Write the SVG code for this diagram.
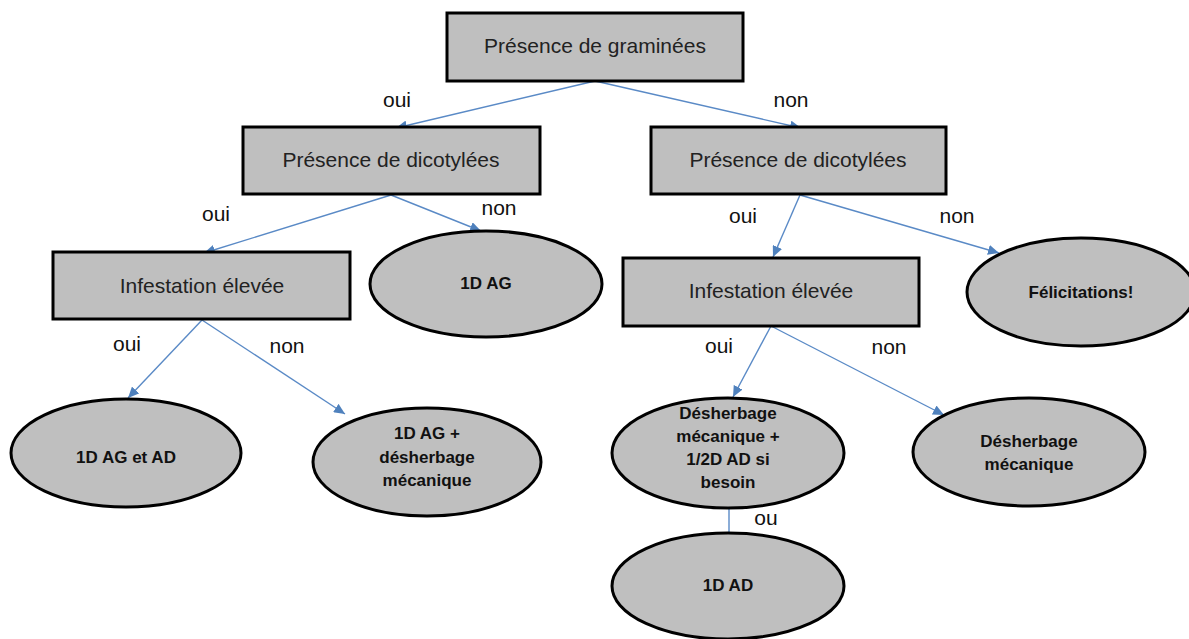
<svg xmlns="http://www.w3.org/2000/svg" width="1189" height="639" viewBox="0 0 1189 639">
<style>
.box{fill:#bfbfbf;stroke:#000;stroke-width:3}
.t{font-family:"Liberation Sans",Arial,sans-serif;font-size:21px;fill:#222;text-anchor:middle}
.b{font-family:"Liberation Sans",Arial,sans-serif;font-size:17px;font-weight:bold;fill:#111;text-anchor:middle}
.lbl{font-family:"Liberation Sans",Arial,sans-serif;font-size:21px;fill:#111;text-anchor:middle}
.e{fill:none;stroke:#5a8ac6;stroke-width:1.4}
</style>
<defs>
<marker id="arr" markerUnits="userSpaceOnUse" markerWidth="12" markerHeight="10" refX="11" refY="5" orient="auto">
<path d="M0,0 L11,5 L0,10 z" fill="#4f81bd"/>
</marker>
</defs>
<rect width="1189" height="639" fill="#fff"/>
<g id="connectors">
<line class="e" x1="595" y1="81" x2="396" y2="128" marker-end="url(#arr)"/>
<line class="e" x1="595" y1="81" x2="801" y2="128" marker-end="url(#arr)"/>
<line class="e" x1="391" y1="195" x2="204" y2="253" marker-end="url(#arr)"/>
<line class="e" x1="391" y1="195" x2="481" y2="231" marker-end="url(#arr)"/>
<line class="e" x1="202" y1="320" x2="128" y2="398" marker-end="url(#arr)"/>
<line class="e" x1="202" y1="320" x2="345" y2="414" marker-end="url(#arr)"/>
<line class="e" x1="800" y1="195" x2="773" y2="257" marker-end="url(#arr)"/>
<line class="e" x1="800" y1="195" x2="999" y2="253" marker-end="url(#arr)"/>
<line class="e" x1="771" y1="326" x2="733" y2="397" marker-end="url(#arr)"/>
<line class="e" x1="771" y1="326" x2="944" y2="415" marker-end="url(#arr)"/>
<line class="e" x1="729" y1="508" x2="729" y2="533"/>
</g>
<g id="labels">
<text class="lbl" x="397" y="107">oui</text>
<text class="lbl" x="791" y="107">non</text>
<text class="lbl" x="216" y="221">oui</text>
<text class="lbl" x="499" y="215">non</text>
<text class="lbl" x="127" y="351">oui</text>
<text class="lbl" x="287" y="353">non</text>
<text class="lbl" x="743" y="223">oui</text>
<text class="lbl" x="957" y="223">non</text>
<text class="lbl" x="719" y="353">oui</text>
<text class="lbl" x="889" y="354">non</text>
<text class="lbl" x="766" y="525">ou</text>
</g>
<g id="n-graminees">
<rect class="box" x="447" y="13" width="296" height="68"/>
<text class="t" x="595" y="53">Présence de graminées</text>
</g>
<g id="n-dicot-oui">
<rect class="box" x="243" y="127" width="297" height="67"/>
<text class="t" x="391" y="167">Présence de dicotylées</text>
</g>
<g id="n-dicot-non">
<rect class="box" x="651" y="127" width="295" height="67"/>
<text class="t" x="798" y="167">Présence de dicotylées</text>
</g>
<g id="n-infest-gauche">
<rect class="box" x="53" y="252" width="297" height="67"/>
<text class="t" x="202" y="293">Infestation élevée</text>
</g>
<g id="n-1dag">
<ellipse class="box" cx="486" cy="284" rx="116" ry="53"/>
<text class="b" x="486" y="289">1D AG</text>
</g>
<g id="n-infest-droite">
<rect class="box" x="623" y="258" width="296" height="68"/>
<text class="t" x="771" y="298">Infestation élevée</text>
</g>
<g id="n-felicitations">
<ellipse class="box" cx="1081" cy="292" rx="114" ry="54"/>
<text class="b" x="1081" y="298">Félicitations!</text>
</g>
<g id="n-1dag-ad">
<ellipse class="box" cx="126" cy="453" rx="115" ry="54"/>
<text class="b" x="126" y="463">1D AG et AD</text>
</g>
<g id="n-1dag-desherbage">
<ellipse class="box" cx="427" cy="462" rx="114" ry="54"/>
<text class="b" x="427" y="439">1D AG +</text>
<text class="b" x="427" y="463">désherbage</text>
<text class="b" x="427" y="486">mécanique</text>
</g>
<g id="n-desherbage-ad">
<ellipse class="box" cx="728" cy="453" rx="116" ry="55"/>
<text class="b" x="728" y="419">Désherbage</text>
<text class="b" x="728" y="442">mécanique +</text>
<text class="b" x="728" y="465">1/2D AD si</text>
<text class="b" x="728" y="488">besoin</text>
</g>
<g id="n-desherbage">
<ellipse class="box" cx="1029" cy="452" rx="116" ry="54"/>
<text class="b" x="1029" y="447">Désherbage</text>
<text class="b" x="1029" y="470">mécanique</text>
</g>
<g id="n-1dad">
<ellipse class="box" cx="728" cy="586" rx="116" ry="53"/>
<text class="b" x="728" y="591">1D AD</text>
</g>
</svg>
